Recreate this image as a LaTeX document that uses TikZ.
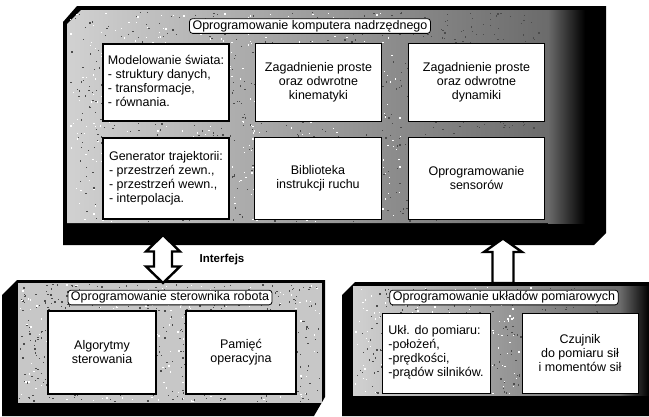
\documentclass[tikz,border=0pt]{standalone}
\usepackage{fontspec}
\setmainfont{Liberation Sans}
\usetikzlibrary{calc}
\begin{document}
\begin{tikzpicture}[x=1pt,y=-1pt,
  every node/.style={font=\fontsize{12.5}{14}\selectfont},
  inbox/.style={draw=black, fill=white, line width=1pt, align=center, inner sep=2pt},
  thickbox/.style={inbox, line width=1.8pt},
  titlebox/.style={draw=black, fill=white, rounded corners=3pt, line width=0.8pt,
    inner xsep=3pt, inner ysep=1.2pt, text height=9.5pt, text depth=2.8pt},
  blockarrow/.style={draw=black, fill=white, line width=2.4pt, line join=miter},
  facegrad/.style={left color=black!18, right color=black!58},
  faceend/.style={left color=black!58, right color=black},
  speck/.style={fill=black!70},
  lightspeck/.style={fill=white}]
\useasboundingbox (0,0) rectangle (649,416);
\pgfmathsetseed{4242}

% ---------- upper frame ----------
\fill[black] (63,22) -- (77,6) -- (606,6) -- (606,233) -- (594,245) -- (63,245) -- cycle;
\fill[facegrad] (67,24) -- (81,10) -- (548,10) -- (548,223) -- (67,223) -- cycle;
\fill[faceend] (548,10) rectangle (585,223);
\foreach \i in {1,...,900} {\fill[speck] ({70+rnd*470},{12+rnd*209}) rectangle ++(1.3,1.3);}
\foreach \i in {1,...,500} {\fill[lightspeck] ({70+rnd*330},{12+rnd*209}) rectangle ++(1.3,1.3);}

% ---------- lower left frame ----------
\fill[black] (2,295) -- (17,280) -- (325,280) -- (325,397) -- (314,416) -- (2,416) -- cycle;
\fill[black!22] (18,283) rectangle (322,403);
\foreach \i in {1,...,550} {\fill[speck] ({19+rnd*301},{284+rnd*117}) rectangle ++(1.3,1.3);}
\foreach \i in {1,...,250} {\fill[lightspeck] ({19+rnd*301},{284+rnd*117}) rectangle ++(1.3,1.3);}

% ---------- lower right frame ----------
\fill[black] (342,295) -- (355,282) -- (649,282) -- (649,416) -- (342,416) -- cycle;
\fill[facegrad] (353,286) rectangle (620,395);
\fill[faceend] (620,286) rectangle (649,395);
\foreach \i in {1,...,350} {\fill[speck] ({354+rnd*250},{287+rnd*106}) rectangle ++(1.3,1.3);}
\foreach \i in {1,...,200} {\fill[lightspeck] ({354+rnd*180},{287+rnd*106}) rectangle ++(1.3,1.3);}

% ---------- upper boxes ----------
\node[titlebox] (t1) at (310,26) {Oprogramowanie komputera nadrzędnego};

\node[thickbox, minimum width=126, minimum height=77] (b11) at (166,82.5)
  {\begin{tabular}{@{}l@{}}Modelowanie świata:\\- struktury danych,\\- transformacje,\\- równania.\end{tabular}};
\node[inbox, minimum width=126, minimum height=78] (b12) at (318.5,82.5)
  {Zagadnienie proste\\oraz odwrotne\\kinematyki};
\node[inbox, minimum width=136, minimum height=78] (b13) at (476.5,82.5)
  {Zagadnienie proste\\oraz odwrotne\\dynamiki};

\node[thickbox, minimum width=126, minimum height=81] (b21) at (166,178.5)
  {\begin{tabular}{@{}l@{}}Generator trajektorii:\\- przestrzeń zewn.,\\- przestrzeń wewn.,\\- interpolacja.\end{tabular}};
\node[inbox, minimum width=127, minimum height=82] (b22) at (318,178.5)
  {Biblioteka\\instrukcji ruchu};
\node[inbox, minimum width=136, minimum height=82] (b23) at (476.5,178.5)
  {Oprogramowanie\\sensorów};

% ---------- lower left boxes ----------
\node[titlebox] (t2) at (170,297.5) {Oprogramowanie sterownika robota};
\node[thickbox, minimum width=108, minimum height=83] (c1) at (102,352.5)
  {Algorytmy\\sterowania};
\node[thickbox, minimum width=110, minimum height=83] (c2) at (241,352.5)
  {Pamięć\\operacyjna};

% ---------- lower right boxes ----------
\node[titlebox] (t3) at (504,297.5) {Oprogramowanie układów pomiarowych};
\node[inbox, minimum width=108, minimum height=80] (d1) at (436,353)
  {\begin{tabular}{@{}l@{}}Ukł. do pomiaru:\\-położeń,\\-prędkości,\\-prądów silników.\end{tabular}};
\node[inbox, minimum width=116, minimum height=80] (d2) at (580,353)
  {Czujnik\\do pomiaru sił\\i momentów sił};

% ---------- arrows ----------
\coordinate (ifT) at (163,235);
\coordinate (ifB) at (163,283);
\draw[blockarrow] (ifT) -- ++(17,16.5) -- ++(-8,0) -- ($(ifB)+(9,-16.5)$) -- ++(8,0)
  -- (ifB) -- ++(-17,-16.5) -- ++(8,0) -- ($(ifT)+(-9,16.5)$) -- ++(-8,0) -- cycle;
\node[font=\fontsize{11.5}{13}\selectfont\bfseries] (ifl) at (222,260) {Interfejs};

\coordinate (upT) at (503,238.5);
\coordinate (upB) at (503,283);
\draw[blockarrow] (upT) -- ++(19,13.5) -- ++(-8.5,0) -- ($(upB)+(10.5,0)$) -- ++(-21,0)
  -- ($(upT)+(-10.5,13.5)$) -- ++(-8.5,0) -- cycle;
\end{tikzpicture}
\end{document}
